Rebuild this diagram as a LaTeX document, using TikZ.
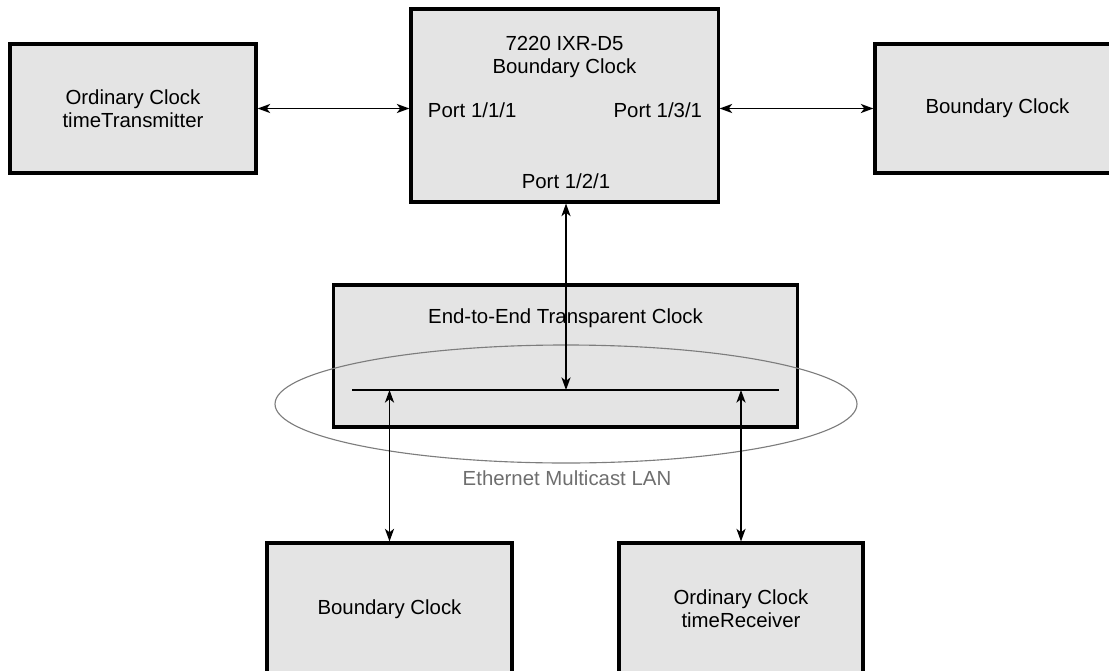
\documentclass[tikz,border=0pt]{standalone}
\usepackage{fontspec}
\setmainfont{Liberation Sans}
\usepackage{tikz}
\usetikzlibrary{arrows.meta}
\definecolor{boxfill}{RGB}{228, 228, 228}
\definecolor{lan}{RGB}{125, 125, 125}
\definecolor{lantext}{RGB}{110, 110, 110}

\begin{document}
\begin{tikzpicture}[x=0.025cm, y=-0.025cm,
    every node/.style={font=\fontsize{14.5}{16.3}\selectfont, align=center},
    clockbox/.style={draw=black, fill=boxfill, line width=2.2pt, inner sep=0pt},
    link/.style={line width=0.9pt, {Stealth[length=9pt, width=6.5pt, inset=2.5pt]}-{Stealth[length=9pt, width=6.5pt, inset=2.5pt]}},
    bus/.style={line width=1.5pt}]

  \clip (0, 0) rectangle (1109, 670);

  % upper row
  \node[clockbox, minimum width=6.15cm, minimum height=3.225cm] (otx) at (133, 108.5)
    {Ordinary Clock\\timeTransmitter};
  \node[clockbox, minimum width=7.675cm, minimum height=4.825cm] (bc) at (564.5, 105.5) {};
  \node[clockbox, minimum width=6.125cm, minimum height=3.225cm] (rbc) at (997.5, 108.5)
    {Boundary Clock};

  \node (bctitle) at (564.5, 57) {7220 IXR-D5\\Boundary Clock};
  \node[anchor=west] (p111) at (423, 110) {Port 1/1/1};
  \node[anchor=east] (p131) at (707, 110) {Port 1/3/1};
  \node (p121) at (566, 181) {Port 1/2/1};

  \draw[link] (otx.east) -- (otx.east -| bc.west);
  \draw[link] (bc.east |- rbc.west) -- (rbc.west);

  % transparent clock and LAN
  \node[clockbox, minimum width=11.575cm, minimum height=3.55cm] (tc) at (565.5, 356) {};
  \node (tctitle) at (565.5, 318) {End-to-End Transparent Clock};

  \coordinate (busw) at (352, 390);
  \coordinate (buse) at (779, 390);
  \coordinate (tap) at (566, 390);
  \draw[bus] (busw) -- (buse);

  \draw[lan, line width=0.8pt] (566, 404) ellipse [x radius=291, y radius=59];
  \node[text=lantext] (lanlabel) at (567, 478) {Ethernet Multicast LAN};

  \draw[link] (tap) -- (tap |- bc.south);

  % lower row
  \node[clockbox, minimum width=6.125cm, minimum height=3.3cm] (lbc) at (389.5, 609)
    {Boundary Clock};
  \node[clockbox, minimum width=6.1cm, minimum height=3.3cm] (orx) at (741, 609)
    {Ordinary Clock\\timeReceiver};

  \draw[link] (lbc.north |- busw) -- (lbc.north);
  \draw[link] (orx.north |- buse) -- (orx.north);

\end{tikzpicture}
\end{document}
